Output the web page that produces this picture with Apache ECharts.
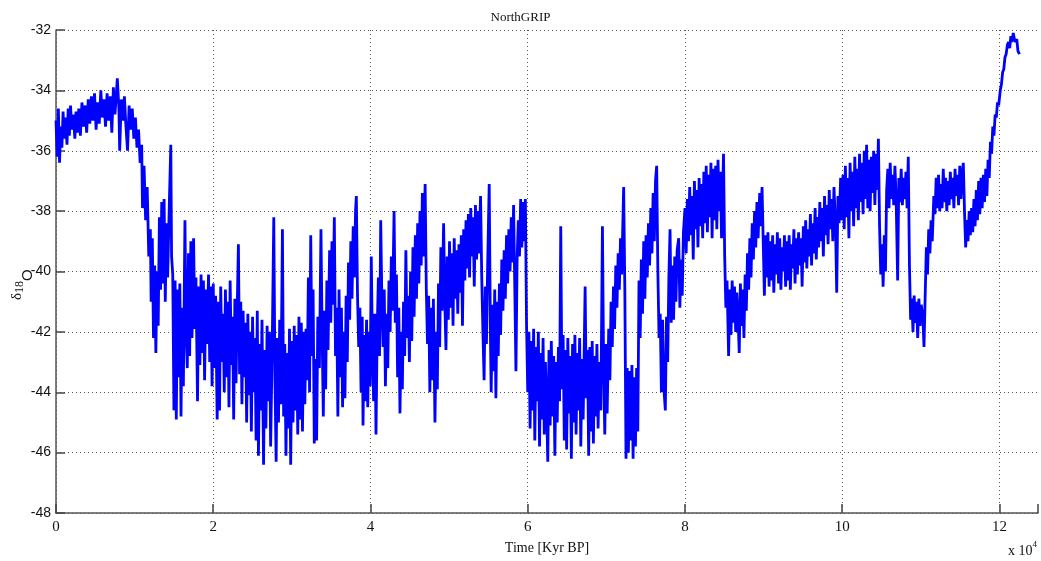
<!DOCTYPE html>
<html>
<head>
<meta charset="utf-8">
<script src="https://cdn.jsdelivr.net/npm/echarts@6/dist/echarts.min.js"></script>
<style>
  html, body { margin: 0; padding: 0; background: #fff; }
  #chart { width: 1041px; height: 561px; }
</style>
</head>
<body>
<div id="chart"></div>
<script>
// axis ticks
var xTicks = [0, 20000, 40000, 60000, 80000, 100000, 120000];
var yTicks = [-48, -46, -44, -42, -40, -38, -36, -34, -32];

// [age (yr BP), d18O], in 20 kyr pieces
var holoceneToLgm = [
  [0,-35.0],[150,-36.2],[300,-34.6],[450,-36.4],[600,-35.2],[750,-35.9],[900,-34.7],[1050,-35.6],[1200,-34.9],[1400,-35.8],
  [1550,-34.6],[1700,-35.5],[1850,-34.5],[2000,-35.3],[2200,-34.8],[2400,-35.6],[2550,-34.7],[2700,-35.4],[2900,-34.6],[3100,-35.5],
  [3300,-34.4],[3500,-35.2],[3700,-34.5],[3900,-35.4],[4100,-34.3],[4300,-35.1],[4500,-34.2],[4700,-35.0],[4900,-34.1],[5100,-35.3],
  [5300,-34.4],[5500,-35.1],[5700,-34.0],[5900,-34.9],[6100,-34.3],[6300,-35.2],[6500,-34.1],[6700,-35.0],[6900,-34.2],[7100,-35.4],
  [7300,-33.9],[7500,-34.8],[7800,-33.6],[8000,-34.6],[8100,-36.0],[8300,-34.3],[8500,-35.0],[8700,-34.2],[8900,-35.2],[9100,-36.0],
  [9300,-34.5],[9500,-35.3],[9700,-34.6],[9900,-35.6],[10100,-34.9],[10300,-35.9],[10500,-35.3],[10700,-36.4],[10900,-35.8],[11000,-37.9],
  [11200,-36.5],[11400,-38.3],[11600,-37.2],[11800,-39.5],[12000,-38.6],[12100,-41.0],[12250,-38.9],[12400,-42.2],[12550,-39.8],[12700,-42.7],
  [12850,-40.0],[13000,-41.8],[13150,-38.2],[13300,-40.6],[13450,-37.7],[13600,-40.4],[13750,-37.6],[13900,-41.0],[14050,-38.4],[14200,-40.2],
  [14400,-37.9],[14600,-35.8],[14700,-39.5],[14850,-40.1],[15000,-44.6],[15150,-40.3],[15300,-44.9],[15450,-40.6],[15600,-43.5],[15750,-40.4],
  [15900,-44.8],[16050,-41.2],[16200,-43.8],[16400,-38.3],[16550,-42.0],[16700,-43.2],[16850,-39.4],[17000,-42.8],[17150,-39.0],[17300,-42.2],
  [17500,-38.9],[17650,-41.9],[17800,-40.2],[18000,-44.3],[18150,-40.5],[18300,-43.1],[18450,-40.1],[18600,-42.7],[18750,-40.3],[18900,-43.6],
  [19050,-40.6],[19200,-42.4],[19400,-40.1],[19550,-43.0],[19700,-40.5],[19850,-43.8]
];
var stadials20to40 = [
  [20000,-40.4],[20150,-43.2],[20300,-40.8],[20500,-44.9],[20650,-41.0],[20800,-44.6],[20950,-40.5],[21100,-43.0],[21250,-41.4],[21400,-44.0],
  [21550,-40.6],[21700,-43.5],[21850,-41.0],[22000,-44.5],[22150,-40.3],[22300,-43.1],[22450,-41.5],[22600,-44.9],[22750,-40.9],[22900,-43.7],
  [23050,-41.2],[23200,-39.1],[23350,-43.4],[23500,-41.0],[23650,-44.4],[23800,-41.3],[23950,-43.5],[24100,-41.7],[24250,-45.0],[24400,-41.4],
  [24550,-44.1],[24700,-42.0],[24850,-45.3],[25000,-41.5],[25150,-44.0],[25300,-42.2],[25450,-45.6],[25600,-41.3],[25750,-46.1],[25900,-42.4],
  [26050,-44.6],[26200,-41.6],[26400,-46.4],[26550,-42.6],[26700,-45.2],[26850,-41.8],[27000,-44.3],[27150,-42.0],[27300,-45.8],[27500,-42.5],
  [27700,-38.2],[27850,-43.6],[28000,-46.3],[28150,-42.2],[28300,-45.0],[28450,-41.6],[28600,-44.4],[28800,-38.6],[28950,-44.8],[29100,-42.4],
  [29250,-46.1],[29400,-42.7],[29550,-45.2],[29700,-41.9],[29850,-46.4],[30000,-42.3],[30150,-45.0],[30300,-41.8],[30450,-44.6],[30600,-42.1],
  [30750,-45.4],[30900,-41.5],[31050,-44.9],[31200,-41.7],[31350,-45.3],[31500,-42.0],[31650,-44.4],[31800,-41.9],[31950,-43.6],[32100,-40.2],
  [32250,-44.0],[32400,-38.8],[32550,-42.8],[32700,-40.6],[32850,-45.7],[33000,-42.9],[33150,-45.6],[33300,-41.5],[33500,-43.2],[33700,-38.6],
  [33850,-42.1],[34000,-44.8],[34150,-41.3],[34300,-43.9],[34450,-40.3],[34600,-42.6],[34800,-39.3],[34950,-41.7],[35100,-39.0],[35250,-41.1],
  [35400,-38.2],[35550,-42.8],[35700,-41.2],[35850,-44.8],[36000,-40.6],[36150,-43.5],[36300,-41.2],[36450,-44.5],[36600,-42.0],[36750,-44.2],
  [36900,-40.8],[37050,-43.0],[37200,-39.7],[37350,-41.6],[37500,-39.0],[37650,-40.9],[37800,-38.5],[37950,-40.2],[38100,-38.0],[38200,-37.5],
  [38350,-40.8],[38500,-42.5],[38650,-41.2],[38800,-44.0],[38950,-41.5],[39050,-45.1],[39200,-42.1],[39350,-44.3],[39500,-41.6],[39650,-44.5],
  [39800,-42.0],[39950,-43.8],[40100,-39.5]
];
var stadials40to60 = [
  [40250,-42.6],[40400,-44.3],[40550,-41.4],[40700,-45.4],[40850,-42.0],[41000,-40.2],[41150,-42.8],[41300,-38.3],[41450,-41.0],[41600,-42.5],
  [41750,-40.6],[41900,-43.8],[42050,-41.4],[42200,-43.2],[42350,-40.3],[42500,-42.0],[42650,-39.5],[42800,-41.3],[43000,-38.0],[43150,-41.7],
  [43300,-40.1],[43450,-43.5],[43600,-41.2],[43750,-44.7],[43900,-42.0],[44050,-43.9],[44200,-41.0],[44350,-42.8],[44500,-39.3],[44650,-42.2],
  [44800,-40.8],[44950,-43.0],[45100,-40.0],[45250,-42.3],[45400,-39.2],[45550,-41.5],[45700,-38.8],[45850,-40.9],[46000,-38.4],[46150,-40.4],
  [46300,-38.0],[46450,-39.8],[46600,-37.4],[46750,-39.5],[46950,-37.1],[47100,-40.6],[47250,-42.4],[47400,-40.8],[47550,-44.0],[47700,-41.2],
  [47850,-43.6],[48000,-40.9],[48200,-45.0],[48350,-42.0],[48500,-43.9],[48650,-40.4],[48800,-42.5],[48950,-39.2],[49100,-41.3],[49300,-38.4],
  [49450,-41.0],[49600,-42.6],[49750,-39.5],[49900,-41.6],[50050,-39.0],[50200,-41.2],[50350,-39.4],[50500,-41.8],[50650,-38.9],[50800,-40.9],
  [50950,-39.3],[51100,-41.4],[51250,-39.1],[51400,-40.7],[51550,-38.8],[51700,-41.8],[51850,-38.6],[52000,-40.3],[52150,-38.3],[52300,-39.9],
  [52450,-38.1],[52600,-40.2],[52750,-37.9],[52900,-39.5],[53050,-38.2],[53200,-40.5],[53350,-37.8],[53500,-39.6],[53650,-38.0],[53800,-39.4],
  [54000,-37.5],[54150,-40.2],[54300,-42.0],[54450,-43.6],[54600,-40.5],[54750,-42.4],[54900,-39.8],[55100,-37.1],[55250,-42.0],[55350,-44.0],
  [55500,-41.1],[55650,-43.3],[55800,-40.6],[55950,-44.2],[56100,-41.0],[56250,-42.8],[56400,-40.4],[56550,-42.1],[56700,-39.6],[56850,-41.3],
  [57000,-39.3],[57150,-40.9],[57300,-38.8],[57450,-40.4],[57600,-38.6],[57750,-40.0],[57900,-38.2],[58050,-39.7],[58200,-37.8],[58350,-40.5],
  [58500,-43.3],[58650,-39.6],[58800,-38.3],[58950,-39.5],[59100,-37.6],[59250,-39.2],[59400,-37.7],[59550,-39.0],[59700,-37.6],[59850,-41.8],
  [60000,-44.0]
];
var stadials60to80 = [
  [60150,-42.0],[60300,-45.2],[60450,-42.3],[60600,-44.6],[60750,-41.9],[60900,-45.6],[61050,-42.5],[61200,-44.3],[61350,-42.0],[61500,-45.8],
  [61650,-42.7],[61800,-44.9],[61950,-42.2],[62100,-45.4],[62250,-43.0],[62400,-44.5],[62550,-46.3],[62700,-42.6],[62850,-45.1],[63000,-42.3],
  [63150,-44.8],[63300,-42.8],[63450,-46.1],[63600,-43.0],[63750,-45.0],[63900,-42.5],[64050,-44.3],[64200,-38.5],[64350,-43.9],[64500,-42.1],
  [64650,-45.6],[64800,-42.6],[64950,-45.9],[65100,-42.2],[65250,-44.7],[65400,-42.8],[65550,-46.2],[65700,-42.4],[65850,-45.0],[66000,-42.1],
  [66150,-45.4],[66300,-42.7],[66450,-44.6],[66600,-42.2],[66750,-45.8],[66900,-42.9],[67050,-44.9],[67300,-40.5],[67450,-44.2],[67600,-42.6],
  [67750,-46.1],[67900,-42.5],[68050,-45.3],[68200,-42.3],[68350,-45.7],[68500,-42.8],[68650,-44.8],[68800,-42.4],[68950,-45.2],[69100,-43.0],
  [69300,-44.6],[69500,-38.5],[69650,-43.1],[69800,-45.4],[69950,-42.4],[70100,-44.7],[70300,-41.9],[70450,-43.6],[70600,-41.0],[70750,-42.5],
  [70900,-40.5],[71050,-41.9],[71200,-39.8],[71350,-41.2],[71500,-39.4],[71650,-40.6],[71800,-38.9],[71950,-40.1],[72200,-37.2],[72350,-40.6],
  [72500,-46.2],[72650,-43.2],[72800,-46.0],[72950,-43.3],[73100,-45.6],[73250,-43.1],[73400,-46.2],[73550,-43.5],[73700,-45.8],[73850,-43.2],
  [74000,-45.3],[74150,-40.3],[74300,-42.2],[74450,-39.6],[74600,-41.4],[74750,-39.0],[74900,-40.9],[75050,-38.8],[75200,-40.2],[75350,-38.4],
  [75500,-39.8],[75650,-37.9],[75800,-39.4],[75950,-37.4],[76100,-39.0],[76250,-37.0],[76400,-36.5],[76550,-40.0],[76700,-42.2],[76850,-41.4],
  [77000,-44.0],[77150,-41.6],[77300,-43.8],[77500,-44.6],[77650,-41.5],[77800,-43.0],[77950,-40.2],[78100,-38.6],[78250,-41.7],[78400,-39.8],
  [78550,-41.6],[78700,-39.5],[78850,-41.0],[79000,-39.3],[79200,-38.9],[79350,-41.2],[79500,-39.6],[79650,-40.8],[79800,-38.7],[80000,-37.9]
];
var earlyGlacial = [
  [80150,-39.4],[80300,-37.6],[80450,-39.0],[80600,-37.2],[80750,-38.8],[80900,-37.5],[81050,-39.6],[81200,-37.0],[81350,-38.6],[81500,-37.3],
  [81650,-39.2],[81800,-36.9],[81950,-38.5],[82100,-37.1],[82250,-38.9],[82400,-36.7],[82550,-38.4],[82700,-36.5],[82850,-38.7],[83000,-36.8],
  [83150,-38.2],[83300,-36.4],[83450,-38.9],[83600,-36.6],[83750,-38.3],[83900,-36.5],[84050,-38.6],[84200,-36.3],[84350,-38.0],[84500,-36.7],
  [84650,-38.9],[84900,-36.1],[85050,-39.5],[85200,-41.2],[85350,-40.3],[85550,-42.8],[85700,-40.6],[85850,-42.1],[86000,-40.3],[86150,-41.7],
  [86300,-40.5],[86450,-42.0],[86600,-40.7],[86750,-41.5],[86900,-42.7],[87050,-40.4],[87200,-41.8],[87350,-40.6],[87500,-42.2],[87650,-40.1],
  [87800,-41.3],[87950,-39.4],[88100,-40.6],[88250,-38.9],[88400,-40.2],[88550,-38.4],[88700,-39.6],[88850,-38.0],[89000,-39.2],[89150,-37.7],
  [89300,-38.9],[89500,-37.4],[89650,-38.5],[89800,-37.2],[89950,-39.0],[90100,-40.8],[90250,-38.8],[90400,-40.2],[90550,-38.7],[90700,-40.5],
  [90850,-39.0],[91000,-40.3],[91150,-38.8],[91300,-40.7],[91450,-39.1],[91600,-40.1],[91750,-38.7],[91900,-40.4],[92050,-38.9],[92200,-40.6],
  [92350,-39.2],[92500,-40.0],[92650,-38.8],[92800,-40.5],[92950,-39.0],[93100,-40.3],[93250,-38.8],[93400,-40.6],[93550,-39.1],[93700,-39.9],
  [93850,-38.6],[94000,-40.4],[94150,-38.9],[94300,-40.1],[94450,-38.7],[94600,-39.8],[94750,-38.9],[94900,-40.5],[95050,-38.5],[95200,-39.7],
  [95350,-38.3],[95500,-39.9],[95650,-38.6],[95800,-39.5],[95950,-38.1],[96100,-39.8],[96250,-38.4],[96400,-39.4],[96550,-37.9],[96700,-39.6],
  [96850,-38.2],[97000,-39.2],[97150,-37.7],[97300,-39.0],[97450,-37.9],[97600,-39.5],[97750,-37.5],[97900,-38.8],[98050,-37.8],[98200,-39.1],
  [98350,-37.3],[98500,-38.6],[98650,-37.6],[98800,-39.0],[98950,-37.2],[99150,-38.5],[99300,-40.7],[99450,-37.5],[99600,-38.4],[99800,-36.9],
  [99950,-38.3]
];
var eemian = [
  [100100,-36.8],[100250,-38.6],[100400,-36.5],[100550,-38.2],[100700,-36.9],[100850,-38.9],[101000,-36.4],[101150,-38.0],[101300,-36.7],[101450,-38.5],
  [101600,-36.2],[101750,-37.9],[101900,-36.6],[102050,-38.3],[102200,-36.1],[102350,-37.7],[102500,-36.4],[102650,-38.1],[102800,-36.0],[102950,-37.6],
  [103100,-35.8],[103250,-37.9],[103400,-36.3],[103550,-38.0],[103700,-36.2],[103850,-37.4],[104000,-36.0],[104150,-37.8],[104300,-36.1],[104450,-37.3],
  [104600,-35.6],[104750,-38.5],[104900,-40.1],[105050,-39.1],[105200,-40.5],[105350,-38.8],[105500,-40.0],[105650,-37.3],[105800,-36.6],[105950,-37.9],
  [106100,-36.4],[106250,-37.6],[106400,-36.8],[106550,-37.8],[106700,-36.5],[106850,-37.5],[107050,-40.3],[107200,-36.9],[107350,-37.7],[107500,-36.6],
  [107650,-37.8],[107800,-36.9],[107950,-37.6],[108100,-36.7],[108250,-37.9],[108400,-36.2],[108550,-39.8],[108700,-41.6],[108850,-40.9],[109000,-42.0],
  [109150,-40.8],[109300,-41.7],[109450,-41.0],[109600,-42.2],[109750,-40.9],[109900,-41.8],[110050,-41.1],[110250,-41.5],[110400,-42.5],[110550,-40.8],
  [110700,-39.2],[110850,-40.1],[111000,-38.6],[111150,-39.4],[111300,-38.3],[111450,-39.0],[111650,-37.5],[111800,-38.1],[111950,-36.9],[112100,-37.9],
  [112250,-36.8],[112400,-38.0],[112550,-37.1],[112700,-37.9],[112850,-36.6],[113000,-37.7],[113150,-36.9],[113300,-38.0],[113450,-37.0],[113600,-37.8],
  [113750,-36.7],[113900,-37.6],[114050,-36.9],[114200,-37.9],[114350,-36.6],[114500,-37.5],[114650,-36.8],[114800,-37.8],[114950,-36.5],[115100,-37.6],
  [115250,-36.8],[115400,-36.4],[115550,-38.0],[115700,-39.2],[115850,-38.3],[116000,-39.0],[116150,-38.0],[116300,-38.8],[116450,-37.9],[116600,-38.7],
  [116750,-37.6],[116900,-38.5],[117050,-37.3],[117200,-38.3],[117350,-37.0],[117500,-38.1],[117650,-36.9],[117800,-37.9],[117950,-36.8],[118100,-37.7],
  [118250,-36.6],[118400,-37.5],[118550,-36.3],[118700,-36.9],[118850,-35.7],[119000,-36.1],[119150,-35.2],[119300,-35.5],[119450,-34.8],[119600,-34.9],
  [119750,-34.4],[119900,-34.5],[120100,-34.0],[120250,-33.8],[120400,-33.4],[120550,-33.3],[120700,-32.9],[120850,-32.8],[121000,-32.5],[121150,-32.4],
  [121300,-32.6],[121450,-32.2],[121600,-32.4],[121750,-32.1],[121900,-32.3],[122050,-32.4],[122200,-32.3],[122350,-32.7],[122550,-32.8]
];

var record = [].concat(holoceneToLgm, stadials20to40, stadials40to60, stadials60to80, earlyGlacial, eemian);

var chart = echarts.init(document.getElementById('chart'));

var option = {
  animation: false,
  backgroundColor: '#ffffff',
  title: {
    text: 'NorthGRIP',
    left: 'center',
    top: 6,
    textStyle: { fontFamily: 'Liberation Serif', fontSize: 13, fontWeight: 'normal', color: '#111' }
  },
  grid: { left: 56, top: 30, right: 1, bottom: 48 },
  xAxis: {
    type: 'value',
    min: xTicks[0],
    max: 124900,
    interval: 20000,
    name: 'Time [Kyr BP]',
    nameLocation: 'middle',
    nameGap: 28,
    nameTextStyle: { fontFamily: 'Liberation Serif', fontSize: 14, color: '#111' },
    axisLine: { lineStyle: { color: '#555', width: 1.5 } },
    axisTick: { inside: true, length: 9, lineStyle: { color: '#444', width: 1.5 } },
    axisLabel: {
      margin: 7,
      fontFamily: 'Liberation Serif',
      fontSize: 15,
      color: '#111',
      formatter: function (v) { return xTicks.indexOf(v) >= 0 ? String(v / 10000) : ''; }
    },
    splitLine: { show: true, showMaxLine: false, lineStyle: { type: [1, 3], color: '#555', width: 1 } }
  },
  yAxis: {
    type: 'value',
    min: yTicks[0],
    max: yTicks[yTicks.length - 1],
    interval: 2,
    axisLine: { show: true, lineStyle: { color: '#555', width: 1.5 } },
    axisTick: { show: true, inside: true, length: 9, lineStyle: { color: '#444', width: 1.5 } },
    axisLabel: { margin: 5, fontFamily: 'Liberation Sans', fontSize: 14, color: '#111' },
    splitLine: { show: true, lineStyle: { type: [1, 3], color: '#555', width: 1 } }
  },
  graphic: [
    {
      type: 'text',
      x: 10,
      y: 300,
      rotation: Math.PI / 2,
      style: {
        text: '{d|δ}{s|18}{o|O}',
        rich: {
          d: { fontFamily: 'Liberation Serif', fontSize: 15, fill: '#111', padding: [0, 0, 12, 0] },
          s: { fontFamily: 'Liberation Serif', fontSize: 12, fill: '#111', padding: [0, 0, 8, 0] },
          o: { fontFamily: 'Liberation Sans', fontSize: 15, fill: '#111', padding: [8, 0, 0, 0] }
        }
      }
    },
    {
      type: 'text',
      right: 4,
      top: 540,
      style: {
        text: '{a|x 10}{b|4}',
        rich: {
          a: { fontFamily: 'Liberation Serif', fontSize: 14, fill: '#111', padding: [6, 0, 0, 0] },
          b: { fontFamily: 'Liberation Serif', fontSize: 9, fill: '#111', padding: [0, 0, 8, 0] }
        }
      }
    }
  ],
  series: [{
    type: 'line',
    data: record,
    showSymbol: false,
    symbol: 'none',
    lineStyle: { color: '#0000ff', width: 2.8 },
    z: 3
  }]
};

chart.setOption(option);
</script>
</body>
</html>
